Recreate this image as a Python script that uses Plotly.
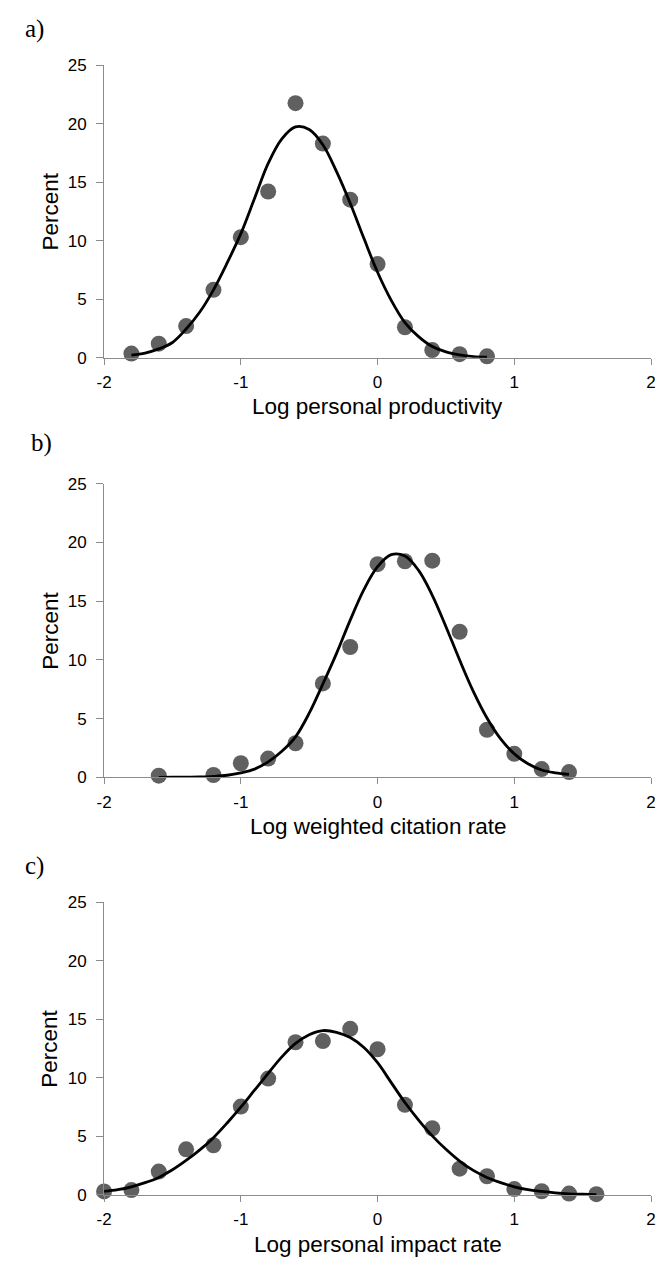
import plotly.graph_objects as go

# ---------- data ----------
a_x = [-1.8, -1.6, -1.4, -1.2, -1.0, -0.8, -0.6, -0.4, -0.2, 0.0, 0.2, 0.4, 0.6, 0.8]
a_y = [0.35, 1.2, 2.7, 5.8, 10.3, 14.2, 21.75, 18.3, 13.5, 8.0, 2.6, 0.65, 0.3, 0.12]
a_fit_x = [-1.8, -1.7, -1.6, -1.5, -1.4, -1.3, -1.2, -1.1, -1.0, -0.9, -0.8, -0.7, -0.6,
           -0.5, -0.4, -0.3, -0.2, -0.1, 0.0, 0.1, 0.2, 0.3, 0.4, 0.5, 0.6, 0.7, 0.8]
a_fit_y = [0.22, 0.4, 0.75, 1.3, 2.45, 3.9, 5.8, 8.1, 10.6, 13.6, 16.6, 18.7, 19.72,
           19.5, 18.2, 15.9, 13.2, 10.2, 7.3, 4.9, 3.0, 1.8, 0.95, 0.5, 0.25, 0.1, 0.05]

b_x = [-1.6, -1.2, -1.0, -0.8, -0.6, -0.4, -0.2, 0.0, 0.2, 0.4, 0.6, 0.8, 1.0, 1.2, 1.4]
b_y = [0.14, 0.2, 1.2, 1.6, 2.9, 8.0, 11.1, 18.15, 18.4, 18.45, 12.4, 4.05, 2.0, 0.7, 0.45]
b_fit_x = [-1.6, -1.5, -1.4, -1.3, -1.2, -1.1, -1.0, -0.9, -0.8, -0.7, -0.6, -0.5, -0.4,
           -0.3, -0.2, -0.1, 0.0, 0.1, 0.2, 0.3, 0.4, 0.5, 0.6, 0.7, 0.8, 0.9, 1.0,
           1.1, 1.2, 1.3, 1.4]
b_fit_y = [0.0, 0.01, 0.015, 0.035, 0.08, 0.175, 0.38, 0.7, 1.32, 2.22, 3.45, 5.46, 7.95,
           10.56, 13.39, 15.99, 17.94, 18.96, 18.84, 17.62, 15.5, 12.83, 9.99, 7.32, 5.05,
           3.27, 2.0, 1.15, 0.62, 0.38, 0.25]

c_x = [-2.0, -1.8, -1.6, -1.4, -1.2, -1.0, -0.8, -0.6, -0.4, -0.2, 0.0, 0.2, 0.4, 0.6,
       0.8, 1.0, 1.2, 1.4, 1.6]
c_y = [0.3, 0.42, 2.0, 3.9, 4.25, 7.55, 9.95, 13.05, 13.15, 14.2, 12.45, 7.7, 5.7, 2.25,
       1.6, 0.5, 0.32, 0.12, 0.07]
c_fit_x = [-2.0, -1.9, -1.8, -1.7, -1.6, -1.5, -1.4, -1.3, -1.2, -1.1, -1.0, -0.9, -0.8,
           -0.7, -0.6, -0.5, -0.4, -0.3, -0.2, -0.1, 0.0, 0.1, 0.2, 0.3, 0.4, 0.5, 0.6,
           0.7, 0.8, 0.9, 1.0, 1.1, 1.2, 1.3, 1.4, 1.5, 1.6]
c_fit_y = [0.3, 0.45, 0.7, 1.05, 1.5, 2.15, 2.95, 3.85, 4.9, 6.15, 7.5, 8.95, 10.4,
           11.8, 12.95, 13.7, 14.05, 13.9, 13.45, 12.6, 11.3, 9.6, 7.9, 6.4, 5.05, 3.9,
           2.9, 2.1, 1.5, 1.05, 0.7, 0.45, 0.3, 0.18, 0.1, 0.06, 0.03]

panel_labels = ["a)", "b)", "c)"]
x_titles = ["Log personal productivity", "Log weighted citation rate", "Log personal impact rate"]
y_title = "Percent"
x_ticks = [-2, -1, 0, 1, 2]
y_ticks = [0, 5, 10, 15, 20, 25]

# ---------- layout geometry (pixels) ----------
W, H = 660, 1269
x_left, x_right = 98, 656
panels_px = [(57, 354), (482, 780), (907, 1204)]  # (top, bottom) of plot area
label_pos = [(15, 20), (21, 441), (15, 870)]

def py(v):
    return 1 - v / H

SANS = "Liberation Sans, Arial, sans-serif"
SERIF = "Liberation Serif, Times New Roman, serif"
AXIS_GREY = "#8c8c8c"
DOT = "#606060"

fig = go.Figure()
series = [(a_x, a_y, a_fit_x, a_fit_y), (b_x, b_y, b_fit_x, b_fit_y), (c_x, c_y, c_fit_x, c_fit_y)]
annotations = []
for i, (px_, py_, fx, fy) in enumerate(series):
    sfx = "" if i == 0 else str(i + 1)
    xa, ya = "x" + sfx, "y" + sfx
    fig.add_trace(go.Scatter(x=px_, y=py_, mode="markers", xaxis=xa, yaxis=ya,
                             marker=dict(size=16, color=DOT), showlegend=False,
                             cliponaxis=False))
    fig.add_trace(go.Scatter(x=fx, y=fy, mode="lines", xaxis=xa, yaxis=ya,
                             line=dict(color="black", width=2.8, shape="spline", smoothing=1.0),
                             showlegend=False, cliponaxis=False))
    top, bot = panels_px[i]
    fig.layout["xaxis" + sfx] = dict(
        domain=[x_left / W, x_right / W], range=[-2, 2], anchor=ya,
        tickvals=x_ticks, ticktext=[str(t) for t in x_ticks],
        showgrid=False, zeroline=False, showline=True, linecolor=AXIS_GREY, linewidth=1,
        ticks="outside", ticklen=6, tickcolor=AXIS_GREY, tickwidth=1,
        tickfont=dict(family=SANS, size=17, color="black"), ticklabelstandoff=3,
        ticklabeloverflow="allow", fixedrange=True)
    fig.layout["yaxis" + sfx] = dict(
        domain=[py(bot), py(top)], range=[0, 25], anchor=xa,
        tickvals=y_ticks, ticktext=[str(t) for t in y_ticks],
        showgrid=False, zeroline=False, showline=True, linecolor=AXIS_GREY, linewidth=1,
        ticks="outside", ticklen=7, tickcolor=AXIS_GREY, tickwidth=1,
        tickfont=dict(family=SANS, size=17, color="black"), ticklabelstandoff=6,
        fixedrange=True)
    lx, ly = label_pos[i]
    annotations.append(dict(text=panel_labels[i], x=lx / W, y=py(ly), xref="paper", yref="paper",
                            xanchor="left", yanchor="middle", showarrow=False,
                            font=dict(family=SERIF, size=25, color="black")))
    annotations.append(dict(text=y_title, x=43 / W, y=py((top + bot) / 2), xref="paper",
                            yref="paper", xanchor="center", yanchor="middle", textangle=-90,
                            showarrow=False, font=dict(family=SANS, size=22.5, color="black")))
    annotations.append(dict(text=x_titles[i], x=(x_left + x_right) / 2 / W, y=py(bot + 50),
                            xref="paper", yref="paper", xanchor="center", yanchor="middle",
                            showarrow=False, font=dict(family=SANS, size=22.5, color="black")))

fig.update_layout(width=W, height=H, margin=dict(l=0, r=0, t=0, b=0),
                  paper_bgcolor="white", plot_bgcolor="white",
                  annotations=annotations, showlegend=False)

fig.write_html("out.html", config={"displayModeBar": False},
               post_script="document.body.style.margin='0';document.body.style.overflow='hidden';")
